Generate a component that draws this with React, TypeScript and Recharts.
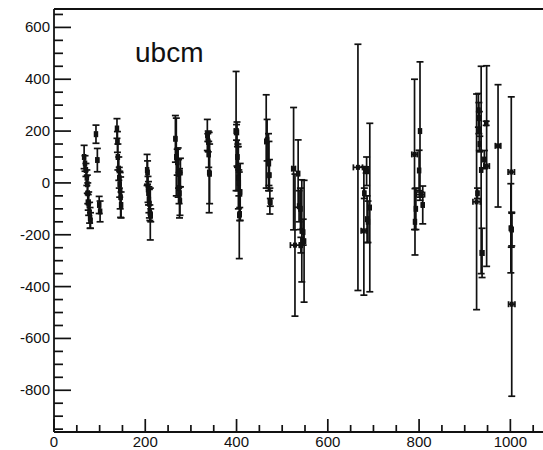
import { ErrorBar, ReferenceLine, Scatter, ScatterChart, XAxis, YAxis } from "recharts";

// points: x, y, x-error, y-error
const xs = [
  66, 68, 70, 72, 73, 74, 75, 76, 78, 79, 80,
  92, 95, 99, 101,
  138, 139, 140, 142, 143, 144, 145, 146, 147,
  204, 205, 206, 207, 208, 209, 210, 211, 212,
  266, 268, 270, 272, 273, 274, 275, 276, 277,
  336, 337, 338, 339, 340, 341,
  399, 400, 401, 402, 403, 404, 405, 406, 407, 408,
  465, 467, 470, 471, 472, 473, 474,
  525, 528, 535, 537, 540, 541, 543, 546, 548,
  666, 679, 680, 684, 685, 686, 688, 692,
  790, 791, 793, 800, 802, 803, 808,
  926, 928, 930, 931, 932, 933, 936, 938, 943, 947, 948,
  973,
  1002, 1001, 1003, 1003
];
const ys = [
  100, 75, 50, 20, -5, -40, -75, -80, -115, -135, -145,
  188, 88, -85, -110,
  210, 158, 100, 55, 20, -5, -30, -55, -85,
  50, 40, -25, -40, -65, -80, -115, -120, -125,
  170, 100, 80, 40, 35, -20, -40, -70, 40,
  185, 175, 160, 110, 40, 35,
  200, 195, 150, 100, 60, 20, 0, -125, -120, -35,
  160, 165, 80, 75, 30, -70, -75,
  55, -240, 36, -90, -100, -240, -185, -190, -225,
  60, -185, -40, 50, 45, -140, -150, -95,
  110, -150, -100, 48, 200, -45, -85,
  -73, -40, 280, 250, 200, 150, 50, -270, 90, 230, 65,
  143,
  42, -175, -180, -468
];
const exs = [
  3, 3, 3, 3, 3, 3, 4, 3, 3, 3, 3,
  3, 3, 3, 3,
  3, 3, 3, 3, 3, 3, 3, 3, 3,
  3, 3, 3, 3, 3, 3, 3, 3, 3,
  3, 3, 3, 3, 3, 3, 3, 3, 3,
  3, 3, 3, 3, 3, 3,
  4, 4, 3, 3, 3, 3, 3, 3, 3, 3,
  3, 3, 3, 3, 3, 3, 3,
  4, 10, 3, 3, 3, 3, 3, 3, 3,
  10, 6, 3, 4, 3, 3, 3, 3,
  6, 3, 3, 3, 3, 9, 3,
  8, 3, 3, 3, 3, 3, 3, 4, 3, 3, 6,
  6,
  7, 3, 3, 7
];
const eys = [
  45, 30, 25, 30, 35, 40, 30, 45, 40, 40, 30,
  35, 45, 33, 40,
  38, 40, 50, 45, 40, 50, 70, 78, 50,
  60, 45, 50, 45, 50, 55, 30, 100, 25,
  90, 150, 50, 95, 55, 60, 95, 55, 55,
  60, 15, 40, 50, 155, 115,
  230, 30, 85, 40, 90, 120, 50, 167, 25, 110,
  180, 80, 110, 85, 60, 50, 15,
  236, 274, 130, 60, 80, 30, 197, 50, 235,
  475, 248, 20, 12, 55, 90, 80, 325,
  290, 128, 80, 78, 267, 10, 73,
  416, 20, 65, 60, 75, 30, 400, 95, 35, 8, 387,
  236,
  290, 172, 63, 355
];

const xTicks = [0, 50, 100, 150, 200, 250, 300, 350, 400, 450, 500, 550, 600, 650, 700, 750, 800, 850, 900, 950, 1000, 1050, 1100];
const yTicks = [
  -950, -900, -850, -800, -750, -700, -650, -600, -550, -500, -450, -400, -350, -300, -250, -200, -150, -100, -50,
  0, 50, 100, 150, 200, 250, 300, 350, 400, 450, 500, 550, 600, 650
];
const xLabels = [0, 200, 400, 600, 800, 1000];
const yLabels = [-800, -600, -400, -200, 0, 200, 400, 600];

const rows = xs.map((x, i) => ({ x, y: ys[i], ex: exs[i], ey: eys[i] }));

const INK = "#111";
const FONT = "'Liberation Sans', Arial, sans-serif";

function XTick({ x, y, payload }: any) {
  const v = payload.value;
  const major = xLabels.includes(v);
  return (
    <g>
      <line x1={x} x2={x} y1={y} y2={y - (major ? 13 : 7)} stroke={INK} strokeWidth={1.7} />
      {major && (
        <text x={x} y={y + 15} textAnchor="middle" fontSize={15} fontFamily={FONT} fill={INK}>
          {v}
        </text>
      )}
    </g>
  );
}

function YTick({ x, y, payload }: any) {
  const v = payload.value;
  const major = yLabels.includes(v);
  return (
    <g>
      <line x1={x} x2={x + (major ? 17 : 9)} y1={y} y2={y} stroke={INK} strokeWidth={1.7} />
      {major && (
        <text x={x - 4} y={y + 5} textAnchor="end" fontSize={15} fontFamily={FONT} fill={INK}>
          {v}
        </text>
      )}
    </g>
  );
}

const Marker = (p: any) => <rect x={p.cx - 2} y={p.cy - 2.5} width={4} height={5} fill={INK} />;

export default function App() {
  return (
    <div style={{ position: "absolute", left: 0, top: 0, width: 543, height: 450, overflow: "hidden", background: "#fff" }}>
      <ScatterChart width={560} height={450} margin={{ top: 9, right: 4, bottom: 0, left: 0 }}>
        <XAxis
          type="number"
          dataKey="x"
          domain={[0, 1100]}
          ticks={xTicks}
          interval={0}
          tick={<XTick />}
          tickLine={false}
          tickSize={0}
          tickMargin={0}
          height={18}
          axisLine={{ stroke: INK, strokeWidth: 1.8 }}
          allowDataOverflow
        />
        <YAxis
          type="number"
          dataKey="y"
          domain={[-961, 671]}
          ticks={yTicks}
          interval={0}
          tick={<YTick />}
          tickLine={false}
          tickSize={0}
          tickMargin={0}
          width={54}
          axisLine={{ stroke: INK, strokeWidth: 1.8 }}
          allowDataOverflow
        />
        <ReferenceLine y={671} stroke={INK} strokeWidth={1.8} />
        <Scatter data={rows} shape={Marker} isAnimationActive={false}>
          <ErrorBar dataKey="ey" direction="y" width={3.5} stroke={INK} strokeWidth={1.7} isAnimationActive={false} />
          <ErrorBar dataKey="ex" direction="x" width={3} stroke={INK} strokeWidth={1.7} isAnimationActive={false} />
        </Scatter>
      </ScatterChart>
      <svg width={543} height={450} style={{ position: "absolute", left: 0, top: 0, pointerEvents: "none" }}>
        <text x={135} y={62} fontSize={28} fontFamily={FONT} fill={INK}>
          ubcm
        </text>
      </svg>
    </div>
  );
}
